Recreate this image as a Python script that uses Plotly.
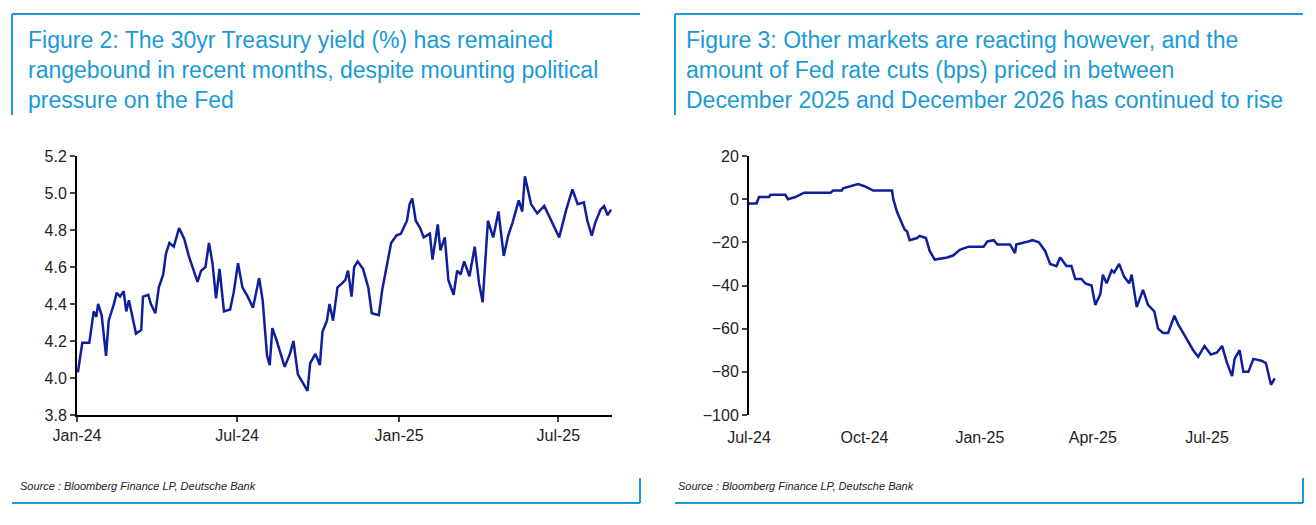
import plotly.graph_objects as go
from datetime import date, timedelta

# Figure 2: 30yr Treasury yield (%) — days since 2024-01-02, value
t30_days = [0,5,13,18,21,23,27,32,35,41,44,48,52,55,58,62,66,72,74,80,83,88,92,97,100,104,109,115,121,126,130,136,140,145,149,153,157,161,166,173,177,182,187,193,199,206,210,215,218,221,226,231,235,241,245,250,256,261,264,270,275,278,283,286,290,295,300,304,307,311,314,318,324,330,334,342,346,351,356,362,367,374,377,380,384,389,393,400,403,409,412,417,421,427,431,435,439,445,451,456,460,466,472,478,484,489,494,501,505,508,515,522,530,536,541,547,555,562,568,575,579,584,588,594,598,602,606]
t30_vals = [4.03,4.19,4.19,4.36,4.33,4.40,4.34,4.12,4.31,4.40,4.46,4.44,4.47,4.36,4.42,4.33,4.24,4.26,4.44,4.45,4.40,4.35,4.49,4.56,4.67,4.73,4.71,4.81,4.75,4.66,4.60,4.52,4.58,4.60,4.73,4.62,4.43,4.59,4.36,4.37,4.46,4.62,4.49,4.44,4.38,4.54,4.42,4.12,4.07,4.27,4.20,4.12,4.06,4.13,4.20,4.02,3.97,3.93,4.08,4.13,4.07,4.25,4.31,4.40,4.31,4.49,4.51,4.53,4.58,4.44,4.60,4.63,4.59,4.49,4.35,4.34,4.48,4.60,4.73,4.77,4.78,4.85,4.94,4.97,4.85,4.81,4.76,4.78,4.64,4.83,4.69,4.76,4.53,4.45,4.58,4.56,4.63,4.55,4.71,4.51,4.41,4.85,4.76,4.90,4.66,4.77,4.84,4.96,4.90,5.09,4.94,4.89,4.93,4.87,4.82,4.76,4.91,5.02,4.94,4.95,4.85,4.77,4.84,4.91,4.93,4.88,4.91]

# Figure 3: Fed cuts priced Dec25-Dec26 (bps) — days since 2024-07-01, value
cut_days = [0,6,8,16,17,29,31,37,44,65,67,74,75,87,92,95,99,114,115,118,121,124,126,128,134,136,141,144,148,158,163,168,175,187,190,195,198,208,212,213,220,226,231,236,240,245,248,253,257,260,265,268,273,276,280,282,285,289,291,295,299,303,305,309,314,318,323,326,330,334,339,342,346,350,354,358,363,368,373,377,381,385,387,391,394,398,402,409,412,416,419]
cut_vals = [-2,-2,1,1,2,2,0,1,3,3,4,4,5,7,6,5,4,4,0,-6,-10,-14,-15,-19,-18,-17,-18,-24,-28,-27,-26,-23.5,-22,-22,-19.6,-19,-21,-21,-25,-21,-20,-19,-20,-24,-30,-31,-27,-31,-31,-37,-37,-39,-40,-49,-44,-35,-39,-33,-34,-30,-36,-39,-35,-50,-42,-49,-52,-60,-62,-62,-54,-58,-62,-66,-70,-73,-68,-72,-71,-68,-76,-82,-74,-70,-80,-80,-74,-75,-76,-86,-83]

left_ticks = ["2024-01-01", "2024-07-01", "2025-01-01", "2025-07-01"]
left_labels = ["Jan-24", "Jul-24", "Jan-25", "Jul-25"]
right_ticks = ["2024-07-01", "2024-10-01", "2025-01-01", "2025-04-01", "2025-07-01"]
right_labels = ["Jul-24", "Oct-24", "Jan-25", "Apr-25", "Jul-25"]

d0 = date(2024, 1, 2)
d1 = date(2024, 7, 1)
x_left = [d0 + timedelta(days=d) for d in t30_days]
x_right = [d1 + timedelta(days=d) for d in cut_days]

W, H = 1316, 525
OFF = 8  # page body margin
BLUE = "#0f1f9c"
TITLE = "#1a9ad6"
FONT = "Liberation Sans Narrow, Arial Narrow, Liberation Sans, Arial"

def px(x): return (x - OFF) / W
def py(y): return 1 - (y - OFF) / H

fig = go.Figure()
fig.add_trace(go.Scatter(x=x_left, y=t30_vals, mode="lines", line=dict(color=BLUE, width=2.5),
                         xaxis="x", yaxis="y", showlegend=False))
fig.add_trace(go.Scatter(x=x_right, y=cut_vals, mode="lines", line=dict(color=BLUE, width=2.5),
                         xaxis="x2", yaxis="y2", showlegend=False))

ydom = [py(415), py(156)]
tickfont = dict(family=FONT, size=16, color="#222")
fig.update_layout(
    width=W, height=H, margin=dict(l=0, r=0, t=0, b=0, pad=0, autoexpand=False),
    paper_bgcolor="white", plot_bgcolor="white",
    xaxis=dict(domain=[px(77), px(612)], type="date", range=["2024-01-01", "2025-08-31"],
               tickvals=left_ticks, ticktext=left_labels, ticks="outside", ticklen=5, tickwidth=2,
               showline=True, linecolor="black", linewidth=2, showgrid=False, zeroline=False,
               tickfont=tickfont, anchor="y", automargin=False),
    yaxis=dict(domain=ydom, range=[3.8, 5.2], dtick=0.2, tickformat=".1f", ticks="outside", ticklen=5,
               tickwidth=2, showline=True, linecolor="black", linewidth=2, showgrid=False,
               zeroline=False, tickfont=tickfont, anchor="x", automargin=False),
    xaxis2=dict(domain=[px(749), px(1276)], type="date", range=["2024-07-01", "2025-08-25"],
                tickvals=right_ticks, ticktext=right_labels, ticks="outside", ticklen=8, tickcolor="white",
                showline=False, showgrid=False, zeroline=False, tickfont=tickfont, anchor="y2", automargin=False),
    xaxis3=dict(domain=[px(749), px(1276)], type="date", range=["2024-07-01", "2025-08-25"],
                tickvals=right_ticks, showticklabels=False, ticks="outside", ticklen=5, tickwidth=2,
                showline=True, linecolor="black", linewidth=2, showgrid=False, zeroline=False,
                anchor="free", overlaying="x2", position=ydom[0] + (ydom[1] - ydom[0]) * (100 / 120),
                automargin=False),
    yaxis2=dict(domain=ydom, range=[-100, 20], dtick=20, ticks="outside", ticklen=5, tickwidth=2,
                showline=True, linecolor="black", linewidth=2, showgrid=False, zeroline=False,
                tickfont=tickfont, anchor="x2", automargin=False),
)

ann = []
tfont = dict(family="Liberation Sans, Arial", size=23, color=TITLE)
ann.append(dict(x=px(26), y=py(25), xref="paper", yref="paper", xanchor="left", yanchor="top", align="left",
                showarrow=False, font=tfont,
                text="Figure 2: The 30yr Treasury yield (%) has remained<br>rangebound in recent months, despite mounting political<br>pressure on the Fed"))
ann.append(dict(x=px(684), y=py(25), xref="paper", yref="paper", xanchor="left", yanchor="top", align="left",
                showarrow=False, font=tfont,
                text="Figure 3: Other markets are reacting however, and the<br>amount of Fed rate cuts (bps) priced in between<br>December 2025 and December 2026 has continued to rise"))
for x in (18, 676):
    ann.append(dict(x=px(x), y=py(486), xref="paper", yref="paper", xanchor="left", yanchor="middle",
                    showarrow=False, font=dict(family="Liberation Sans, Arial", size=11, color="#222"),
                    text="<i>Source : Bloomberg Finance LP, Deutsche Bank</i>"))
fig.update_layout(annotations=ann)

shapes = []
for (l, r) in ((12, 640), (675, 1303)):
    line = dict(color=TITLE, width=2)
    shapes.append(dict(type="line", xref="paper", yref="paper", x0=px(l), x1=px(r), y0=py(14), y1=py(14), line=line))
    shapes.append(dict(type="line", xref="paper", yref="paper", x0=px(l), x1=px(l), y0=py(14), y1=py(115), line=line))
    shapes.append(dict(type="line", xref="paper", yref="paper", x0=px(l), x1=px(r), y0=py(503), y1=py(503), line=line))
    shapes.append(dict(type="line", xref="paper", yref="paper", x0=px(r), x1=px(r), y0=py(478), y1=py(503), line=line))
fig.update_layout(shapes=shapes)

fig.write_html("out.html")
